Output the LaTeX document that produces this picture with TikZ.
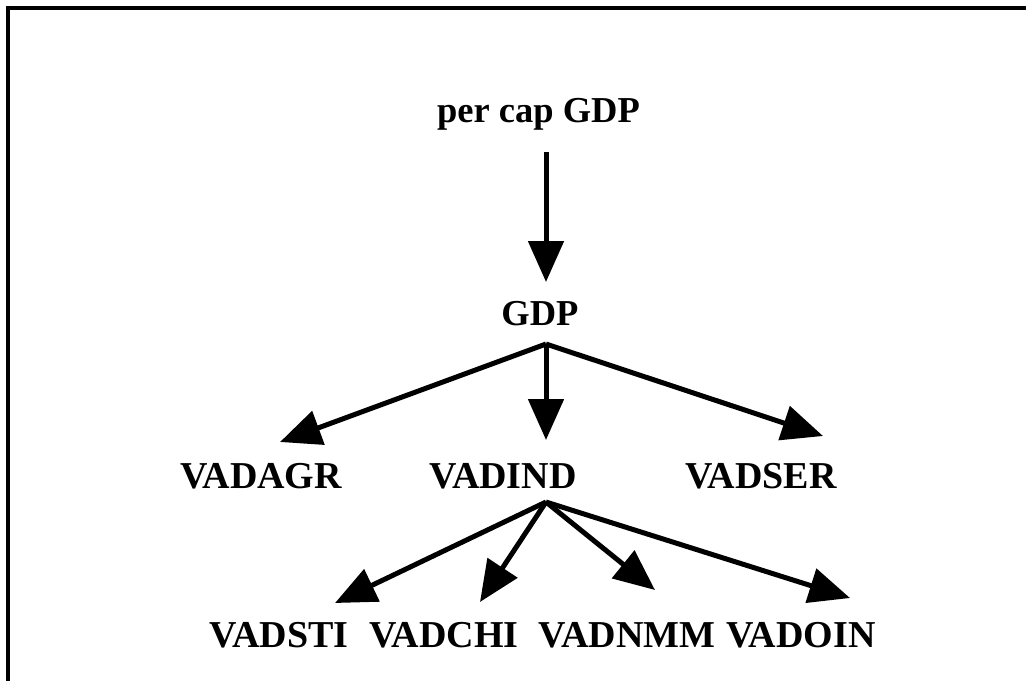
\documentclass[tikz,border=0pt]{standalone}
\usepackage{fontspec}
\setmainfont{Liberation Serif}
\usetikzlibrary{arrows.meta}
\begin{document}
\begin{tikzpicture}[x=1pt,y=-1pt,
  lbl/.style={font=\fontsize{36.5}{40}\selectfont\bfseries, inner sep=0pt, anchor=base},
  vlbl/.style={font=\fontsize{38}{42}\selectfont\bfseries, inner sep=0pt, anchor=base},
  conn/.style={line width=5pt, -{Triangle[length=41pt,width=35pt]}}]
\useasboundingbox (0,0) rectangle (1026,681);
\draw[line width=4pt, line join=miter] (8,681) -- (8,8) -- (1026,8);
\node[lbl] (pc) at (538.5,122) {per cap GDP};
\node[lbl] (gdp) at (540,325) {GDP};
\node[vlbl] (agr) at (261,488) {VADAGR};
\node[vlbl] (ind) at (503,488) {VADIND};
\node[vlbl] (ser) at (761,488) {VADSER};
\node[vlbl] (sti) at (279,647) {VADSTI};
\node[vlbl] (chi) at (444,647) {VADCHI};
\node[vlbl] (nmm) at (627,647) {VADNMM};
\node[vlbl] (oin) at (801,647) {VADOIN};
\coordinate (pcS) at (546,152);
\coordinate (gdpT) at (546,282);
\coordinate (gdpS) at (546,344);
\coordinate (agrT) at (280,442);
\coordinate (indT) at (546,440);
\coordinate (serT) at (823,436);
\coordinate (indS) at (546,502);
\coordinate (stiT) at (335,603);
\coordinate (chiT) at (480,602);
\coordinate (nmmT) at (655,590);
\coordinate (oinT) at (850,598);
\draw[conn] (pcS) -- (gdpT);
\draw[conn] (gdpS) -- (agrT);
\draw[conn] (gdpS) -- (indT);
\draw[conn] (gdpS) -- (serT);
\draw[conn] (indS) -- (stiT);
\draw[conn] (indS) -- (chiT);
\draw[conn] (indS) -- (nmmT);
\draw[conn] (indS) -- (oinT);
\end{tikzpicture}
\end{document}
